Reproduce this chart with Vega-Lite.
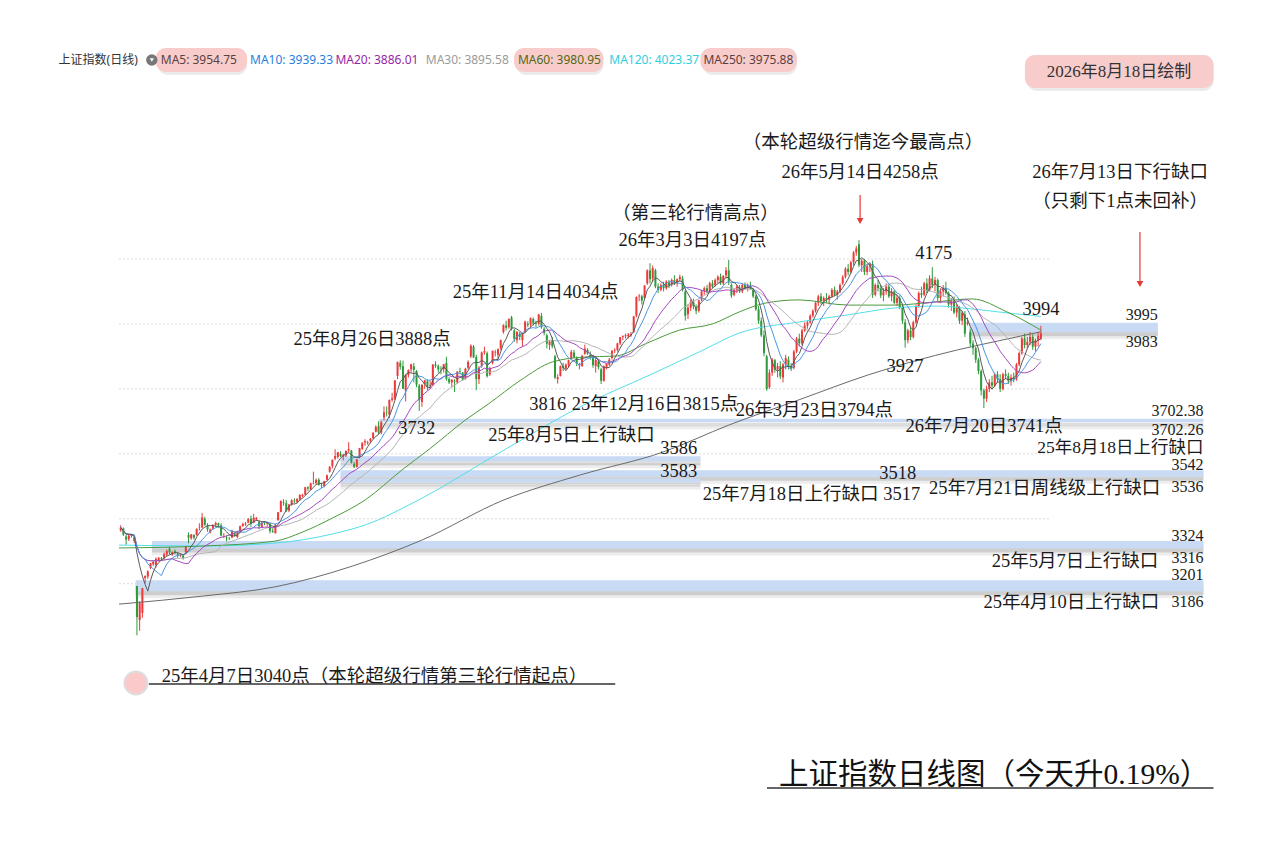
{
"$schema":"https://vega.github.io/schema/vega-lite/v6.json",
"width":1273,"height":844,
"autosize":{"type":"fit","contains":"padding"},
"padding":0,
"background":"#ffffff",
"config":{"view":{"stroke":null}},
"datasets":{
"k":[
{"i":-6,"o":3364,"h":3380,"l":3360,"c":3373},{"i":-5,"o":3370,"h":3373,"l":3347,"c":3351},{"i":-4,"o":3345,"h":3351,"l":3320,"c":3336},{"i":-3,"o":3337,"h":3350,"l":3331,"c":3348},{"i":-2,"o":3347,"h":3353,"l":3342,"c":3350},{"i":-1,"o":3332,"h":3346,"l":3325,"c":3342},
{"i":0,"o":3193,"h":3193,"l":3041,"c":3097},{"i":1,"o":3088,"h":3146,"l":3055,"c":3140},{"i":2,"o":3110,"h":3187,"l":3095,"c":3186},{"i":3,"o":3218,"h":3225,"l":3201,"c":3224},{"i":4,"o":3222,"h":3241,"l":3215,"c":3238},{"i":5,"o":3249,"h":3264,"l":3245,"c":3263},{"i":6,"o":3260,"h":3272,"l":3255,"c":3268},{"i":7,"o":3258,"h":3281,"l":3250,"c":3276},{"i":8,"o":3270,"h":3282,"l":3268,"c":3280},{"i":9,"o":3279,"h":3282,"l":3270,"c":3277},
{"i":10,"o":3280,"h":3296,"l":3276,"c":3291},{"i":11,"o":3290,"h":3305,"l":3285,"c":3300},{"i":12,"o":3308,"h":3313,"l":3290,"c":3296},{"i":13,"o":3290,"h":3300,"l":3286,"c":3297},{"i":14,"o":3300,"h":3305,"l":3290,"c":3295},{"i":15,"o":3292,"h":3298,"l":3280,"c":3288},{"i":16,"o":3285,"h":3293,"l":3282,"c":3286},{"i":17,"o":3286,"h":3290,"l":3274,"c":3279},{"i":18,"o":3297,"h":3316,"l":3294,"c":3316},{"i":19,"o":3350,"h":3358,"l":3324,"c":3342},
{"i":20,"o":3340,"h":3353,"l":3335,"c":3352},{"i":21,"o":3350,"h":3352,"l":3336,"c":3342},{"i":22,"o":3350,"h":3370,"l":3348,"c":3369},{"i":23,"o":3373,"h":3386,"l":3364,"c":3374},{"i":24,"o":3373,"h":3418,"l":3372,"c":3404},{"i":25,"o":3400,"h":3406,"l":3378,"c":3381},{"i":26,"o":3378,"h":3386,"l":3360,"c":3367},{"i":27,"o":3358,"h":3370,"l":3355,"c":3367},{"i":28,"o":3370,"h":3382,"l":3366,"c":3381},{"i":29,"o":3381,"h":3391,"l":3375,"c":3387},
{"i":30,"o":3386,"h":3388,"l":3372,"c":3380},{"i":31,"o":3380,"h":3386,"l":3346,"c":3348},{"i":32,"o":3345,"h":3356,"l":3340,"c":3346},{"i":33,"o":3342,"h":3348,"l":3330,"c":3340},{"i":34,"o":3340,"h":3344,"l":3334,"c":3339},{"i":35,"o":3342,"h":3366,"l":3340,"c":3363},{"i":36,"o":3355,"h":3360,"l":3345,"c":3347},{"i":37,"o":3344,"h":3363,"l":3340,"c":3361},{"i":38,"o":3360,"h":3379,"l":3358,"c":3377},{"i":39,"o":3378,"h":3388,"l":3375,"c":3384},
{"i":40,"o":3382,"h":3390,"l":3378,"c":3385},{"i":41,"o":3388,"h":3402,"l":3386,"c":3399},{"i":42,"o":3400,"h":3410,"l":3375,"c":3384},{"i":43,"o":3388,"h":3415,"l":3386,"c":3403},{"i":44,"o":3398,"h":3405,"l":3393,"c":3403},{"i":45,"o":3390,"h":3395,"l":3368,"c":3377},{"i":46,"o":3375,"h":3391,"l":3372,"c":3388},{"i":47,"o":3388,"h":3393,"l":3380,"c":3387},{"i":48,"o":3385,"h":3390,"l":3376,"c":3388},{"i":49,"o":3385,"h":3386,"l":3355,"c":3362},
{"i":50,"o":3362,"h":3370,"l":3357,"c":3359},{"i":51,"o":3355,"h":3385,"l":3355,"c":3381},{"i":52,"o":3395,"h":3421,"l":3395,"c":3420},{"i":53,"o":3421,"h":3456,"l":3420,"c":3455},{"i":54,"o":3450,"h":3460,"l":3440,"c":3448},{"i":55,"o":3448,"h":3458,"l":3421,"c":3424},{"i":56,"o":3425,"h":3445,"l":3420,"c":3444},{"i":57,"o":3444,"h":3460,"l":3440,"c":3457},{"i":58,"o":3456,"h":3463,"l":3448,"c":3454},{"i":59,"o":3452,"h":3463,"l":3448,"c":3461},
{"i":60,"o":3460,"h":3476,"l":3455,"c":3473},{"i":61,"o":3470,"h":3477,"l":3466,"c":3473},{"i":62,"o":3474,"h":3498,"l":3472,"c":3497},{"i":63,"o":3497,"h":3500,"l":3486,"c":3493},{"i":64,"o":3490,"h":3511,"l":3488,"c":3509},{"i":65,"o":3509,"h":3545,"l":3506,"c":3510},{"i":66,"o":3510,"h":3524,"l":3505,"c":3520},{"i":67,"o":3520,"h":3525,"l":3502,"c":3505},{"i":68,"o":3505,"h":3510,"l":3495,"c":3503},{"i":69,"o":3500,"h":3517,"l":3497,"c":3516},
{"i":70,"o":3520,"h":3536,"l":3518,"c":3534},{"i":71,"o":3545,"h":3562,"l":3542,"c":3560},{"i":72,"o":3562,"h":3582,"l":3555,"c":3582},{"i":73,"o":3585,"h":3614,"l":3580,"c":3593},{"i":74,"o":3590,"h":3606,"l":3585,"c":3605},{"i":75,"o":3600,"h":3608,"l":3590,"c":3593},{"i":76,"o":3592,"h":3600,"l":3580,"c":3597},{"i":77,"o":3595,"h":3610,"l":3590,"c":3609},{"i":78,"o":3610,"h":3636,"l":3605,"c":3615},{"i":79,"o":3610,"h":3612,"l":3570,"c":3573},
{"i":80,"o":3568,"h":3575,"l":3556,"c":3560},{"i":81,"o":3560,"h":3583,"l":3558,"c":3583},{"i":82,"o":3590,"h":3618,"l":3586,"c":3617},{"i":83,"o":3615,"h":3635,"l":3612,"c":3634},{"i":84,"o":3635,"h":3645,"l":3625,"c":3639},{"i":85,"o":3634,"h":3640,"l":3628,"c":3636},{"i":86,"o":3640,"h":3648,"l":3632,"c":3647},{"i":87,"o":3648,"h":3666,"l":3645,"c":3665},{"i":88,"o":3668,"h":3688,"l":3666,"c":3683},{"i":89,"o":3685,"h":3700,"l":3660,"c":3666},
{"i":90,"o":3665,"h":3702,"l":3660,"c":3697},{"i":91,"o":3712,"h":3746,"l":3703,"c":3728},{"i":92,"o":3728,"h":3746,"l":3715,"c":3727},{"i":93,"o":3720,"h":3767,"l":3710,"c":3766},{"i":94,"o":3766,"h":3788,"l":3760,"c":3771},{"i":95,"o":3770,"h":3826,"l":3765,"c":3826},{"i":96,"o":3840,"h":3884,"l":3830,"c":3883},{"i":97,"o":3880,"h":3888,"l":3859,"c":3868},{"i":98,"o":3870,"h":3887,"l":3800,"c":3800},{"i":99,"o":3795,"h":3845,"l":3761,"c":3843},
{"i":100,"o":3843,"h":3860,"l":3835,"c":3858},{"i":101,"o":3860,"h":3877,"l":3850,"c":3876},{"i":102,"o":3870,"h":3880,"l":3820,"c":3858},{"i":103,"o":3855,"h":3858,"l":3805,"c":3813},{"i":104,"o":3810,"h":3815,"l":3732,"c":3765},{"i":105,"o":3760,"h":3815,"l":3745,"c":3812},{"i":106,"o":3815,"h":3828,"l":3800,"c":3826},{"i":107,"o":3823,"h":3830,"l":3795,"c":3807},{"i":108,"o":3810,"h":3825,"l":3800,"c":3812},{"i":109,"o":3812,"h":3876,"l":3810,"c":3875},
{"i":110,"o":3875,"h":3885,"l":3865,"c":3871},{"i":111,"o":3870,"h":3875,"l":3850,"c":3860},{"i":112,"o":3862,"h":3870,"l":3845,"c":3861},{"i":113,"o":3860,"h":3877,"l":3850,"c":3876},{"i":114,"o":3880,"h":3899,"l":3825,"c":3831},{"i":115,"o":3830,"h":3836,"l":3815,"c":3820},{"i":116,"o":3820,"h":3830,"l":3805,"c":3828},{"i":117,"o":3825,"h":3830,"l":3790,"c":3822},{"i":118,"o":3820,"h":3855,"l":3815,"c":3853},{"i":119,"o":3855,"h":3865,"l":3845,"c":3853},
{"i":120,"o":3850,"h":3852,"l":3825,"c":3828},{"i":121,"o":3830,"h":3865,"l":3828,"c":3862},{"i":122,"o":3865,"h":3888,"l":3860,"c":3883},{"i":123,"o":3900,"h":3937,"l":3895,"c":3933},{"i":124,"o":3930,"h":3935,"l":3895,"c":3897},{"i":125,"o":3898,"h":3905,"l":3796,"c":3830},{"i":126,"o":3830,"h":3870,"l":3815,"c":3865},{"i":127,"o":3870,"h":3915,"l":3865,"c":3912},{"i":128,"o":3912,"h":3930,"l":3905,"c":3916},{"i":129,"o":3910,"h":3915,"l":3835,"c":3839},
{"i":130,"o":3845,"h":3868,"l":3840,"c":3863},{"i":131,"o":3880,"h":3918,"l":3875,"c":3917},{"i":132,"o":3912,"h":3920,"l":3900,"c":3914},{"i":133,"o":3905,"h":3925,"l":3890,"c":3922},{"i":134,"o":3925,"h":3952,"l":3920,"c":3950},{"i":135,"o":3975,"h":3999,"l":3970,"c":3996},{"i":136,"o":3995,"h":4010,"l":3980,"c":3988},{"i":137,"o":3990,"h":4016,"l":3985,"c":4016},{"i":138,"o":4020,"h":4025,"l":3980,"c":3986},{"i":139,"o":3980,"h":3985,"l":3945,"c":3954},
{"i":140,"o":3950,"h":3977,"l":3940,"c":3976},{"i":141,"o":3970,"h":3975,"l":3950,"c":3960},{"i":142,"o":3950,"h":3972,"l":3930,"c":3969},{"i":143,"o":3975,"h":4010,"l":3972,"c":4007},{"i":144,"o":4000,"h":4008,"l":3990,"c":3997},{"i":145,"o":3998,"h":4020,"l":3990,"c":4018},{"i":146,"o":4015,"h":4020,"l":3995,"c":4002},{"i":147,"o":4002,"h":4010,"l":3990,"c":4000},{"i":148,"o":4000,"h":4031,"l":3995,"c":4029},{"i":149,"o":4025,"h":4034,"l":3985,"c":3990},
{"i":150,"o":3985,"h":3990,"l":3965,"c":3972},{"i":151,"o":3965,"h":3970,"l":3925,"c":3939},{"i":152,"o":3935,"h":3950,"l":3920,"c":3946},{"i":153,"o":3950,"h":3960,"l":3925,"c":3931},{"i":154,"o":3900,"h":3905,"l":3830,"c":3835},{"i":155,"o":3830,"h":3845,"l":3816,"c":3836},{"i":156,"o":3840,"h":3872,"l":3838,"c":3870},{"i":157,"o":3870,"h":3880,"l":3855,"c":3864},{"i":158,"o":3862,"h":3878,"l":3860,"c":3875},{"i":159,"o":3875,"h":3890,"l":3865,"c":3888},
{"i":160,"o":3892,"h":3920,"l":3890,"c":3914},{"i":161,"o":3912,"h":3920,"l":3895,"c":3898},{"i":162,"o":3895,"h":3900,"l":3870,"c":3878},{"i":163,"o":3872,"h":3880,"l":3860,"c":3875},{"i":164,"o":3870,"h":3905,"l":3868,"c":3902},{"i":165,"o":3908,"h":3936,"l":3905,"c":3924},{"i":166,"o":3920,"h":3925,"l":3905,"c":3909},{"i":167,"o":3905,"h":3915,"l":3890,"c":3900},{"i":168,"o":3898,"h":3905,"l":3865,"c":3873},{"i":169,"o":3870,"h":3895,"l":3850,"c":3889},
{"i":170,"o":3885,"h":3890,"l":3860,"c":3867},{"i":171,"o":3860,"h":3865,"l":3815,"c":3825},{"i":172,"o":3825,"h":3872,"l":3822,"c":3870},{"i":173,"o":3868,"h":3880,"l":3860,"c":3877},{"i":174,"o":3875,"h":3895,"l":3870,"c":3890},{"i":175,"o":3895,"h":3920,"l":3890,"c":3917},{"i":176,"o":3918,"h":3925,"l":3910,"c":3920},{"i":177,"o":3920,"h":3942,"l":3915,"c":3940},{"i":178,"o":3940,"h":3960,"l":3935,"c":3959},{"i":179,"o":3960,"h":3965,"l":3950,"c":3963},
{"i":180,"o":3962,"h":3970,"l":3955,"c":3965},{"i":181,"o":3962,"h":3972,"l":3955,"c":3968},{"i":182,"o":3965,"h":3975,"l":3960,"c":3969},{"i":183,"o":3975,"h":4025,"l":3972,"c":4023},{"i":184,"o":4025,"h":4085,"l":4020,"c":4083},{"i":185,"o":4085,"h":4092,"l":4070,"c":4087},{"i":186,"o":4085,"h":4090,"l":4060,"c":4072},{"i":187,"o":4080,"h":4120,"l":4078,"c":4118},{"i":188,"o":4125,"h":4168,"l":4120,"c":4165},{"i":189,"o":4165,"h":4187,"l":4125,"c":4138},
{"i":190,"o":4140,"h":4180,"l":4130,"c":4172},{"i":191,"o":4165,"h":4170,"l":4110,"c":4115},{"i":192,"o":4115,"h":4125,"l":4095,"c":4105},{"i":193,"o":4105,"h":4125,"l":4100,"c":4120},{"i":194,"o":4120,"h":4130,"l":4100,"c":4110},{"i":195,"o":4110,"h":4135,"l":4105,"c":4130},{"i":196,"o":4128,"h":4135,"l":4110,"c":4120},{"i":197,"o":4122,"h":4140,"l":4115,"c":4135},{"i":198,"o":4135,"h":4150,"l":4120,"c":4125},{"i":199,"o":4125,"h":4140,"l":4115,"c":4138},
{"i":200,"o":4138,"h":4152,"l":4130,"c":4145},{"i":201,"o":4140,"h":4148,"l":4100,"c":4105},{"i":202,"o":4100,"h":4105,"l":4010,"c":4025},{"i":203,"o":4030,"h":4060,"l":4015,"c":4050},{"i":204,"o":4050,"h":4075,"l":4040,"c":4068},{"i":205,"o":4068,"h":4078,"l":4045,"c":4055},{"i":206,"o":4050,"h":4060,"l":4030,"c":4040},{"i":207,"o":4040,"h":4075,"l":4035,"c":4072},{"i":208,"o":4075,"h":4105,"l":4070,"c":4100},{"i":209,"o":4100,"h":4115,"l":4090,"c":4110},
{"i":210,"o":4110,"h":4120,"l":4095,"c":4100},{"i":211,"o":4100,"h":4130,"l":4095,"c":4125},{"i":212,"o":4125,"h":4135,"l":4110,"c":4115},{"i":213,"o":4120,"h":4140,"l":4115,"c":4135},{"i":214,"o":4135,"h":4150,"l":4125,"c":4145},{"i":215,"o":4145,"h":4155,"l":4120,"c":4125},{"i":216,"o":4125,"h":4150,"l":4120,"c":4148},{"i":217,"o":4150,"h":4175,"l":4140,"c":4165},{"i":218,"o":4165,"h":4197,"l":4120,"c":4130},{"i":219,"o":4120,"h":4125,"l":4080,"c":4088},
{"i":220,"o":4090,"h":4110,"l":4085,"c":4105},{"i":221,"o":4105,"h":4120,"l":4095,"c":4115},{"i":222,"o":4112,"h":4120,"l":4095,"c":4100},{"i":223,"o":4100,"h":4125,"l":4095,"c":4120},{"i":224,"o":4120,"h":4128,"l":4105,"c":4110},{"i":225,"o":4110,"h":4125,"l":4100,"c":4118},{"i":226,"o":4118,"h":4130,"l":4105,"c":4108},{"i":227,"o":4105,"h":4110,"l":4080,"c":4085},{"i":228,"o":4085,"h":4090,"l":4040,"c":4045},{"i":229,"o":4045,"h":4055,"l":4000,"c":4010},
{"i":230,"o":4010,"h":4020,"l":3960,"c":3965},{"i":231,"o":3965,"h":3980,"l":3900,"c":3910},{"i":232,"o":3900,"h":3905,"l":3794,"c":3800},{"i":233,"o":3805,"h":3860,"l":3800,"c":3850},{"i":234,"o":3850,"h":3895,"l":3840,"c":3890},{"i":235,"o":3888,"h":3892,"l":3850,"c":3860},{"i":236,"o":3860,"h":3880,"l":3835,"c":3870},{"i":237,"o":3870,"h":3885,"l":3830,"c":3838},{"i":238,"o":3835,"h":3880,"l":3820,"c":3875},{"i":239,"o":3875,"h":3905,"l":3860,"c":3895},
{"i":240,"o":3890,"h":3900,"l":3860,"c":3870},{"i":241,"o":3870,"h":3880,"l":3855,"c":3862},{"i":242,"o":3865,"h":3920,"l":3860,"c":3915},{"i":243,"o":3915,"h":3960,"l":3910,"c":3955},{"i":244,"o":3955,"h":3970,"l":3930,"c":3940},{"i":245,"o":3940,"h":3985,"l":3935,"c":3980},{"i":246,"o":3980,"h":4005,"l":3975,"c":3995},{"i":247,"o":3995,"h":4010,"l":3985,"c":4005},{"i":248,"o":4005,"h":4030,"l":4000,"c":4025},{"i":249,"o":4025,"h":4045,"l":4020,"c":4040},
{"i":250,"o":4040,"h":4070,"l":4035,"c":4065},{"i":251,"o":4065,"h":4090,"l":4055,"c":4085},{"i":252,"o":4085,"h":4095,"l":4060,"c":4070},{"i":253,"o":4070,"h":4085,"l":4055,"c":4080},{"i":254,"o":4080,"h":4095,"l":4065,"c":4075},{"i":255,"o":4075,"h":4090,"l":4060,"c":4085},{"i":256,"o":4085,"h":4110,"l":4080,"c":4105},{"i":257,"o":4105,"h":4115,"l":4085,"c":4090},{"i":258,"o":4090,"h":4105,"l":4075,"c":4100},{"i":259,"o":4100,"h":4125,"l":4095,"c":4120},
{"i":260,"o":4125,"h":4150,"l":4120,"c":4145},{"i":261,"o":4145,"h":4175,"l":4140,"c":4170},{"i":262,"o":4170,"h":4185,"l":4150,"c":4160},{"i":263,"o":4160,"h":4195,"l":4155,"c":4190},{"i":264,"o":4190,"h":4225,"l":4180,"c":4220},{"i":265,"o":4220,"h":4240,"l":4210,"c":4232},{"i":266,"o":4245,"h":4258,"l":4175,"c":4182},{"i":267,"o":4180,"h":4200,"l":4160,"c":4195},{"i":268,"o":4195,"h":4200,"l":4150,"c":4160},{"i":269,"o":4160,"h":4185,"l":4150,"c":4178},
{"i":270,"o":4178,"h":4190,"l":4160,"c":4185},{"i":271,"o":4185,"h":4195,"l":4080,"c":4090},{"i":272,"o":4090,"h":4125,"l":4085,"c":4120},{"i":273,"o":4120,"h":4135,"l":4100,"c":4110},{"i":274,"o":4110,"h":4120,"l":4080,"c":4088},{"i":275,"o":4088,"h":4110,"l":4070,"c":4100},{"i":276,"o":4100,"h":4125,"l":4090,"c":4115},{"i":277,"o":4115,"h":4120,"l":4080,"c":4085},{"i":278,"o":4085,"h":4110,"l":4070,"c":4100},{"i":279,"o":4100,"h":4105,"l":4060,"c":4065},
{"i":280,"o":4065,"h":4090,"l":4055,"c":4080},{"i":281,"o":4080,"h":4088,"l":4045,"c":4050},{"i":282,"o":4050,"h":4060,"l":4000,"c":4010},{"i":283,"o":4005,"h":4015,"l":3927,"c":3950},{"i":284,"o":3950,"h":3985,"l":3940,"c":3980},{"i":285,"o":3980,"h":3990,"l":3950,"c":3960},{"i":286,"o":3960,"h":4010,"l":3955,"c":4005},{"i":287,"o":4005,"h":4060,"l":4000,"c":4055},{"i":288,"o":4055,"h":4100,"l":4050,"c":4095},{"i":289,"o":4095,"h":4115,"l":4080,"c":4090},
{"i":290,"o":4090,"h":4130,"l":4085,"c":4125},{"i":291,"o":4125,"h":4140,"l":4095,"c":4105},{"i":292,"o":4105,"h":4150,"l":4100,"c":4140},{"i":293,"o":4140,"h":4175,"l":4110,"c":4120},{"i":294,"o":4120,"h":4145,"l":4100,"c":4135},{"i":295,"o":4135,"h":4140,"l":4070,"c":4080},{"i":296,"o":4080,"h":4110,"l":4065,"c":4100},{"i":297,"o":4100,"h":4120,"l":4085,"c":4110},{"i":298,"o":4110,"h":4130,"l":4090,"c":4095},{"i":299,"o":4095,"h":4100,"l":4050,"c":4060},
{"i":300,"o":4060,"h":4080,"l":4040,"c":4070},{"i":301,"o":4070,"h":4085,"l":4030,"c":4035},{"i":302,"o":4035,"h":4060,"l":4020,"c":4050},{"i":303,"o":4050,"h":4055,"l":4000,"c":4010},{"i":304,"o":4010,"h":4040,"l":3996,"c":4035},{"i":305,"o":4030,"h":4040,"l":3960,"c":3970},{"i":306,"o":4000,"h":4020,"l":3995,"c":4005},{"i":307,"o":3975,"h":3983,"l":3930,"c":3940},{"i":308,"o":3940,"h":3950,"l":3905,"c":3925},{"i":309,"o":3925,"h":3930,"l":3880,"c":3890},
{"i":310,"o":3890,"h":3895,"l":3845,"c":3855},{"i":311,"o":3855,"h":3860,"l":3780,"c":3795},{"i":312,"o":3795,"h":3800,"l":3741,"c":3770},{"i":313,"o":3770,"h":3810,"l":3760,"c":3800},{"i":314,"o":3800,"h":3830,"l":3790,"c":3820},{"i":315,"o":3820,"h":3840,"l":3800,"c":3810},{"i":316,"o":3810,"h":3850,"l":3805,"c":3845},{"i":317,"o":3845,"h":3855,"l":3820,"c":3830},{"i":318,"o":3830,"h":3845,"l":3790,"c":3800},{"i":319,"o":3800,"h":3850,"l":3795,"c":3845},
{"i":320,"o":3845,"h":3860,"l":3830,"c":3840},{"i":321,"o":3840,"h":3850,"l":3815,"c":3825},{"i":322,"o":3825,"h":3845,"l":3810,"c":3835},{"i":323,"o":3835,"h":3850,"l":3820,"c":3830},{"i":324,"o":3830,"h":3880,"l":3825,"c":3875},{"i":325,"o":3875,"h":3915,"l":3870,"c":3910},{"i":326,"o":3910,"h":3960,"l":3905,"c":3955},{"i":327,"o":3955,"h":3970,"l":3925,"c":3935},{"i":328,"o":3935,"h":3960,"l":3925,"c":3945},{"i":329,"o":3945,"h":3975,"l":3935,"c":3960},
{"i":330,"o":3960,"h":3968,"l":3920,"c":3930},{"i":331,"o":3930,"h":3955,"l":3915,"c":3950},{"i":332,"o":3950,"h":3975,"l":3930,"c":3963},{"i":333,"o":3955,"h":3994,"l":3950,"c":3971}
],
"ma":[
{"k":"MA250","i":-6.6,"v":3137},{"k":"MA250","i":24.5,"v":3162},{"k":"MA250","i":50.8,"v":3190},{"k":"MA250","i":79.3,"v":3254},{"k":"MA250","i":104.9,"v":3334},{"k":"MA250","i":135.2,"v":3458},{"k":"MA250","i":163.4,"v":3535},{"k":"MA250","i":193.7,"v":3605},{"k":"MA250","i":218.2,"v":3689},{"k":"MA250","i":243.8,"v":3766},{"k":"MA250","i":269.4,"v":3843},{"k":"MA250","i":302.3,"v":3920},{"k":"MA250","i":316.9,"v":3947},{"k":"MA250","i":333,"v":3976},
{"k":"MA120","i":-6.6,"v":3319},{"k":"MA120","i":24.5,"v":3316},{"k":"MA120","i":50.8,"v":3325},{"k":"MA120","i":72,"v":3353},{"k":"MA120","i":84.1,"v":3381},{"k":"MA120","i":103.8,"v":3458},{"k":"MA120","i":134.1,"v":3606},{"k":"MA120","i":164.5,"v":3750},{"k":"MA120","i":189,"v":3843},{"k":"MA120","i":207.2,"v":3914},{"k":"MA120","i":221.9,"v":3972},{"k":"MA120","i":243.8,"v":4006},{"k":"MA120","i":262.1,"v":4028},{"k":"MA120","i":278.9,"v":4049},{"k":"MA120","i":294.9,"v":4055},{"k":"MA120","i":307.7,"v":4046},{"k":"MA120","i":320.5,"v":4034},{"k":"MA120","i":333,"v":4023},
{"k":"MA60","i":-6.6,"v":3310},{"k":"MA60","i":24.5,"v":3316},{"k":"MA60","i":50.8,"v":3331},{"k":"MA60","i":61,"v":3359},{"k":"MA60","i":72,"v":3402},{"k":"MA60","i":84.1,"v":3458},{"k":"MA60","i":97.6,"v":3550},{"k":"MA60","i":107.8,"v":3615},{"k":"MA60","i":121,"v":3704},{"k":"MA60","i":129.4,"v":3753},{"k":"MA60","i":141.4,"v":3827},{"k":"MA60","i":153.1,"v":3883},{"k":"MA60","i":164.8,"v":3898},{"k":"MA60","i":176.2,"v":3901},{"k":"MA60","i":187.9,"v":3941},{"k":"MA60","i":199.9,"v":3981},{"k":"MA60","i":212,"v":4000},{"k":"MA60","i":221.9,"v":4037},{"k":"MA60","i":231.4,"v":4064},{"k":"MA60","i":243.8,"v":4074},{"k":"MA60","i":262.1,"v":4058},{"k":"MA60","i":278.9,"v":4058},{"k":"MA60","i":293.1,"v":4067},{"k":"MA60","i":307.7,"v":4077},{"k":"MA60","i":320.5,"v":4037},{"k":"MA60","i":333,"v":3981}
],
"grid":[{"v":3200,"a":-6.6,"b":336.3},{"v":3400,"a":-6.6,"b":336.3},{"v":3600,"a":-6.6,"b":336.3},{"v":3800,"a":-6.6,"b":336.3},{"v":4000,"a":-6.6,"b":336.3},{"v":4200,"a":-6.6,"b":336.3}],
"gaps":[
{"lo":3983,"hi":3995,"m":3989,"g":12,"a":306.7,"b":376.1},
{"lo":3702.26,"hi":3702.38,"m":3702.3,"g":0.12,"a":89.2,"b":392.9},
{"lo":3583,"hi":3586,"m":3584.5,"g":3,"a":75,"b":207.6},
{"lo":3517,"hi":3518,"m":3517.5,"g":1,"a":75,"b":207.6},
{"lo":3536,"hi":3542,"m":3539,"g":6,"a":75,"b":392.9},
{"lo":3316,"hi":3324,"m":3320,"g":8,"a":5.5,"b":392.9},
{"lo":3186,"hi":3201,"m":3193.5,"g":15,"a":-0.5,"b":392.9}
],
"annC":[
{"i":267.5,"v":4560,"t":"（本轮超级行情迄今最高点）"},
{"i":266.4,"v":4468,"t":"26年5月14日4258点"},
{"i":205.8,"v":4342,"t":"（第三轮行情高点）"},
{"i":204.7,"v":4258.5,"t":"26年3月3日4197点"},
{"i":293.5,"v":4218.5,"t":"4175"},
{"i":362.2,"v":4468,"t":"26年7月13日下行缺口"},
{"i":362.2,"v":4378.6,"t":"（只剩下1点未回补）"},
{"i":146.9,"v":4098.3,"t":"25年11月14日4034点"},
{"i":86.6,"v":3953.6,"t":"25年8月26日3888点"},
{"i":333,"v":4046,"t":"3994"},
{"i":282.9,"v":3870.4,"t":"3927"},
{"i":151.3,"v":3753.4,"t":"3816"},
{"i":190.8,"v":3753.4,"t":"25年12月16日3815点"},
{"i":249.6,"v":3734.9,"t":"26年3月23日3794点"},
{"i":103.1,"v":3679.5,"t":"3732"},
{"i":160.1,"v":3657.9,"t":"25年8月5日上行缺口"},
{"i":312.1,"v":3685.6,"t":"26年7月20日3741点"},
{"i":199.6,"v":3617.9,"t":"3586"},
{"i":199.6,"v":3547,"t":"3583"},
{"i":280.3,"v":3540.9,"t":"3518"},
{"i":248.5,"v":3476.2,"t":"25年7月18日上行缺口 3517"},
{"i":334.4,"v":3494.7,"t":"25年7月21日周线级上行缺口"},
{"i":345.6,"v":3269.8,"t":"25年5月7日上行缺口"},
{"i":344.2,"v":3143.5,"t":"25年4月10日上行缺口"}
],
"annR":[
{"i":376.1,"v":4027.5,"t":"3995"},
{"i":376.1,"v":3944.3,"t":"3983"},
{"i":392.9,"v":3731,"t":"3702.38"},
{"i":392.9,"v":3673.3,"t":"3702.26"},
{"i":392.9,"v":3565.5,"t":"3542"},
{"i":392.9,"v":3497.7,"t":"3536"},
{"i":392.9,"v":3346.8,"t":"3324"},
{"i":392.9,"v":3279.1,"t":"3316"},
{"i":392.9,"v":3226.7,"t":"3201"},
{"i":392.9,"v":3143.5,"t":"3186"}
],
"annR2":[{"i":392.9,"v":3617.9,"t":"25年8月18日上行缺口"}],
"annL":[{"i":9.14,"v":2915.6,"t":"25年4月7日3040点（本轮超级行情第三轮行情起点）"}],
"title":[{"i":315.8,"v":2610.7,"t":"上证指数日线图（今天升0.19%）"}],
"date":[{"i":361.8,"v":4775.9,"t":"2026年8月18日绘制"}],
"ul":[{"a":4.39,"b":176.2,"v":2891},{"a":232.1,"b":396.6,"v":2570.7}],
"box":[{"a":6.94,"b":40.57,"lo":4775.9,"hi":4849.9},{"a":138.9,"b":171.8,"lo":4775.9,"hi":4849.9},{"a":207.6,"b":243.1,"lo":4775.9,"hi":4849.9},{"a":327.1,"b":396.6,"lo":4726.7,"hi":4828.3}],
"arrows":[{"i":266.4,"a":4397,"b":4317},{"i":369.5,"a":4283,"b":4123}],
"dot":[{"i":-0.37,"v":2894.1}],
"icon":[{"i":5.48,"v":4812.9}],
"leg":[
{"i":-28.87,"v":4812.9,"t":"上证指数(日线)","k":"T"},
{"i":8.77,"v":4812.9,"t":"MA5: 3954.75","k":"MA5"},
{"i":41.67,"v":4812.9,"t":"MA10: 3939.33","k":"MA10"},
{"i":73.1,"v":4812.9,"t":"MA20: 3886.01","k":"MA20"},
{"i":106.4,"v":4812.9,"t":"MA30: 3895.58","k":"MA30"},
{"i":140.35,"v":4812.9,"t":"MA60: 3980.95","k":"MA60"},
{"i":174.0,"v":4812.9,"t":"MA120: 4023.37","k":"MA120"},
{"i":208.7,"v":4812.9,"t":"MA250: 3975.88","k":"MA250"}
]
},
"layer":[
{"data":{"name":"grid"},"mark":{"type":"rule","color":"#dcdcdc","strokeWidth":1,"strokeDash":[2,2]},
 "encoding":{"x":{"field":"a","type":"quantitative","scale":{"domain":[-48.61,416.67],"nice":false,"zero":false},"axis":null},"x2":{"field":"b"},
 "y":{"field":"v","type":"quantitative","scale":{"domain":[2398.2,4997.7],"nice":false,"zero":false},"axis":null}}},
{"data":{"name":"gaps"},"mark":{"type":"rule","color":"#000000","opacity":0.07,"yOffset":7},
 "encoding":{"x":{"field":"a","type":"quantitative","scale":{"domain":[-48.61,416.67],"nice":false,"zero":false},"axis":null},"x2":{"field":"b"},
 "y":{"field":"m","type":"quantitative","scale":{"domain":[2398.2,4997.7],"nice":false,"zero":false},"axis":null},
 "strokeWidth":{"field":"g","type":"quantitative","scale":{"domain":[0,15],"range":[3.5,11]},"legend":null}}},
{"data":{"name":"gaps"},"mark":{"type":"rule","color":"#000000","opacity":0.13,"yOffset":4},
 "encoding":{"x":{"field":"a","type":"quantitative","scale":{"domain":[-48.61,416.67],"nice":false,"zero":false},"axis":null},"x2":{"field":"b"},
 "y":{"field":"m","type":"quantitative","scale":{"domain":[2398.2,4997.7],"nice":false,"zero":false},"axis":null},
 "strokeWidth":{"field":"g","type":"quantitative","scale":{"domain":[0,15],"range":[3.5,11]},"legend":null}}},
{"data":{"name":"gaps"},"mark":{"type":"rule","color":"#c9daf5"},
 "encoding":{"x":{"field":"a","type":"quantitative","scale":{"domain":[-48.61,416.67],"nice":false,"zero":false},"axis":null},"x2":{"field":"b"},
 "y":{"field":"m","type":"quantitative","scale":{"domain":[2398.2,4997.7],"nice":false,"zero":false},"axis":null},
 "strokeWidth":{"field":"g","type":"quantitative","scale":{"domain":[0,15],"range":[3.5,11]},"legend":null}}},
{"data":{"name":"k"},"mark":{"type":"rule","strokeWidth":1},
 "encoding":{"x":{"field":"i","type":"quantitative","scale":{"domain":[-48.61,416.67],"nice":false,"zero":false},"axis":null},
 "y":{"field":"l","type":"quantitative","scale":{"domain":[2398.2,4997.7],"nice":false,"zero":false},"axis":null},"y2":{"field":"h"},
 "color":{"condition":{"test":"datum.c >= datum.o","value":"#ec3a3a"},"value":"#2e9a3c"}}},
{"data":{"name":"k"},"mark":{"type":"bar","width":2},
 "encoding":{"x":{"field":"i","type":"quantitative","scale":{"domain":[-48.61,416.67],"nice":false,"zero":false},"axis":null},
 "y":{"field":"o","type":"quantitative","scale":{"domain":[2398.2,4997.7],"nice":false,"zero":false},"axis":null},"y2":{"field":"c"},
 "color":{"condition":{"test":"datum.c >= datum.o","value":"#ec3a3a"},"value":"#2e9a3c"}}},
{"data":{"name":"ma"},"transform":[{"filter":"datum.k === 'MA250'"}],"mark":{"type":"line","color":"#6a6a6a","strokeWidth":1,"interpolate":"monotone"},
 "encoding":{"x":{"field":"i","type":"quantitative","scale":{"domain":[-48.61,416.67],"nice":false,"zero":false},"axis":null},
 "y":{"field":"v","type":"quantitative","scale":{"domain":[2398.2,4997.7],"nice":false,"zero":false},"axis":null}}},
{"data":{"name":"ma"},"transform":[{"filter":"datum.k === 'MA120'"}],"mark":{"type":"line","color":"#52dfe8","strokeWidth":1,"interpolate":"monotone"},
 "encoding":{"x":{"field":"i","type":"quantitative","scale":{"domain":[-48.61,416.67],"nice":false,"zero":false},"axis":null},
 "y":{"field":"v","type":"quantitative","scale":{"domain":[2398.2,4997.7],"nice":false,"zero":false},"axis":null}}},
{"data":{"name":"ma"},"transform":[{"filter":"datum.k === 'MA60'"}],"mark":{"type":"line","color":"#4b9a3b","strokeWidth":1,"interpolate":"monotone"},
 "encoding":{"x":{"field":"i","type":"quantitative","scale":{"domain":[-48.61,416.67],"nice":false,"zero":false},"axis":null},
 "y":{"field":"v","type":"quantitative","scale":{"domain":[2398.2,4997.7],"nice":false,"zero":false},"axis":null}}},
{"data":{"name":"k"},"transform":[{"window":[{"op":"mean","field":"c","as":"m"}],"frame":[-29,0],"sort":[{"field":"i","order":"ascending"}]}],"mark":{"type":"line","color":"#b4b4b4","strokeWidth":1},
 "encoding":{"x":{"field":"i","type":"quantitative","scale":{"domain":[-48.61,416.67],"nice":false,"zero":false},"axis":null},
 "y":{"field":"m","type":"quantitative","scale":{"domain":[2398.2,4997.7],"nice":false,"zero":false},"axis":null}}},
{"data":{"name":"k"},"transform":[{"window":[{"op":"mean","field":"c","as":"m"}],"frame":[-19,0],"sort":[{"field":"i","order":"ascending"}]}],"mark":{"type":"line","color":"#a348be","strokeWidth":1},
 "encoding":{"x":{"field":"i","type":"quantitative","scale":{"domain":[-48.61,416.67],"nice":false,"zero":false},"axis":null},
 "y":{"field":"m","type":"quantitative","scale":{"domain":[2398.2,4997.7],"nice":false,"zero":false},"axis":null}}},
{"data":{"name":"k"},"transform":[{"window":[{"op":"mean","field":"c","as":"m"}],"frame":[-9,0],"sort":[{"field":"i","order":"ascending"}]}],"mark":{"type":"line","color":"#4a95e6","strokeWidth":1},
 "encoding":{"x":{"field":"i","type":"quantitative","scale":{"domain":[-48.61,416.67],"nice":false,"zero":false},"axis":null},
 "y":{"field":"m","type":"quantitative","scale":{"domain":[2398.2,4997.7],"nice":false,"zero":false},"axis":null}}},
{"data":{"name":"k"},"transform":[{"window":[{"op":"mean","field":"c","as":"m"}],"frame":[-4,0],"sort":[{"field":"i","order":"ascending"}]}],"mark":{"type":"line","color":"#5a5a5a","strokeWidth":1},
 "encoding":{"x":{"field":"i","type":"quantitative","scale":{"domain":[-48.61,416.67],"nice":false,"zero":false},"axis":null},
 "y":{"field":"m","type":"quantitative","scale":{"domain":[2398.2,4997.7],"nice":false,"zero":false},"axis":null}}},
{"data":{"name":"box"},"mark":{"type":"rect","color":"#000000","opacity":0.08,"cornerRadius":10,"xOffset":2,"yOffset":3},
 "encoding":{"x":{"field":"a","type":"quantitative","scale":{"domain":[-48.61,416.67],"nice":false,"zero":false},"axis":null},"x2":{"field":"b"},
 "y":{"field":"lo","type":"quantitative","scale":{"domain":[2398.2,4997.7],"nice":false,"zero":false},"axis":null},"y2":{"field":"hi"}}},
{"data":{"name":"box"},"mark":{"type":"rect","color":"#f9cccc","cornerRadius":10},
 "encoding":{"x":{"field":"a","type":"quantitative","scale":{"domain":[-48.61,416.67],"nice":false,"zero":false},"axis":null},"x2":{"field":"b"},
 "y":{"field":"lo","type":"quantitative","scale":{"domain":[2398.2,4997.7],"nice":false,"zero":false},"axis":null},"y2":{"field":"hi"}}},
{"data":{"name":"icon"},"mark":{"type":"point","filled":true,"color":"#777777","size":130,"opacity":1},
 "encoding":{"x":{"field":"i","type":"quantitative","scale":{"domain":[-48.61,416.67],"nice":false,"zero":false},"axis":null},
 "y":{"field":"v","type":"quantitative","scale":{"domain":[2398.2,4997.7],"nice":false,"zero":false},"axis":null}}},
{"data":{"name":"icon"},"mark":{"type":"point","filled":true,"shape":"triangle-down","color":"#ffffff","size":18,"opacity":1},
 "encoding":{"x":{"field":"i","type":"quantitative","scale":{"domain":[-48.61,416.67],"nice":false,"zero":false},"axis":null},
 "y":{"field":"v","type":"quantitative","scale":{"domain":[2398.2,4997.7],"nice":false,"zero":false},"axis":null}}},
{"data":{"name":"leg"},"mark":{"type":"text","align":"left","baseline":"middle","font":"Noto Sans, Noto Sans CJK SC","fontSize":12},
 "encoding":{"x":{"field":"i","type":"quantitative","scale":{"domain":[-48.61,416.67],"nice":false,"zero":false},"axis":null},
 "y":{"field":"v","type":"quantitative","scale":{"domain":[2398.2,4997.7],"nice":false,"zero":false},"axis":null},
 "text":{"field":"t","type":"nominal"},
 "color":{"field":"k","type":"nominal","scale":{"domain":["T","MA5","MA10","MA20","MA30","MA60","MA120","MA250"],"range":["#333333","#5a3f3f","#1f80de","#9a1fa5","#9b9b9b","#4f6a12","#2fd0de","#5a3f3f"]},"legend":null}}},
{"data":{"name":"date"},"mark":{"type":"text","align":"center","baseline":"middle","font":"Liberation Serif, Noto Sans CJK SC","fontSize":17,"color":"#333333"},
 "encoding":{"x":{"field":"i","type":"quantitative","scale":{"domain":[-48.61,416.67],"nice":false,"zero":false},"axis":null},
 "y":{"field":"v","type":"quantitative","scale":{"domain":[2398.2,4997.7],"nice":false,"zero":false},"axis":null},
 "text":{"field":"t","type":"nominal"}}},
{"data":{"name":"arrows"},"mark":{"type":"rule","color":"#e53935","strokeWidth":1.2},
 "encoding":{"x":{"field":"i","type":"quantitative","scale":{"domain":[-48.61,416.67],"nice":false,"zero":false},"axis":null},
 "y":{"field":"a","type":"quantitative","scale":{"domain":[2398.2,4997.7],"nice":false,"zero":false},"axis":null},"y2":{"field":"b"}}},
{"data":{"name":"arrows"},"mark":{"type":"point","shape":"triangle-down","filled":true,"color":"#e53935","size":45,"opacity":1},
 "encoding":{"x":{"field":"i","type":"quantitative","scale":{"domain":[-48.61,416.67],"nice":false,"zero":false},"axis":null},
 "y":{"field":"b","type":"quantitative","scale":{"domain":[2398.2,4997.7],"nice":false,"zero":false},"axis":null}}},
{"data":{"name":"annC"},"mark":{"type":"text","align":"center","baseline":"middle","font":"Liberation Serif, Noto Sans CJK SC","fontSize":18.5,"color":"#1a1a1a"},
 "encoding":{"x":{"field":"i","type":"quantitative","scale":{"domain":[-48.61,416.67],"nice":false,"zero":false},"axis":null},
 "y":{"field":"v","type":"quantitative","scale":{"domain":[2398.2,4997.7],"nice":false,"zero":false},"axis":null},
 "text":{"field":"t","type":"nominal"}}},
{"data":{"name":"annR"},"mark":{"type":"text","align":"right","baseline":"middle","font":"Liberation Serif, Noto Sans CJK SC","fontSize":16,"color":"#1a1a1a"},
 "encoding":{"x":{"field":"i","type":"quantitative","scale":{"domain":[-48.61,416.67],"nice":false,"zero":false},"axis":null},
 "y":{"field":"v","type":"quantitative","scale":{"domain":[2398.2,4997.7],"nice":false,"zero":false},"axis":null},
 "text":{"field":"t","type":"nominal"}}},
{"data":{"name":"annR2"},"mark":{"type":"text","align":"right","baseline":"middle","font":"Liberation Serif, Noto Sans CJK SC","fontSize":17.5,"color":"#1a1a1a"},
 "encoding":{"x":{"field":"i","type":"quantitative","scale":{"domain":[-48.61,416.67],"nice":false,"zero":false},"axis":null},
 "y":{"field":"v","type":"quantitative","scale":{"domain":[2398.2,4997.7],"nice":false,"zero":false},"axis":null},
 "text":{"field":"t","type":"nominal"}}},
{"data":{"name":"dot"},"mark":{"type":"point","filled":true,"color":"#fbc9c9","size":530,"opacity":1,"stroke":"#dddddd","strokeWidth":2},
 "encoding":{"x":{"field":"i","type":"quantitative","scale":{"domain":[-48.61,416.67],"nice":false,"zero":false},"axis":null},
 "y":{"field":"v","type":"quantitative","scale":{"domain":[2398.2,4997.7],"nice":false,"zero":false},"axis":null}}},
{"data":{"name":"ul"},"mark":{"type":"rule","color":"#333333","strokeWidth":1.5},
 "encoding":{"x":{"field":"a","type":"quantitative","scale":{"domain":[-48.61,416.67],"nice":false,"zero":false},"axis":null},"x2":{"field":"b"},
 "y":{"field":"v","type":"quantitative","scale":{"domain":[2398.2,4997.7],"nice":false,"zero":false},"axis":null}}},
{"data":{"name":"annL"},"mark":{"type":"text","align":"left","baseline":"middle","font":"Liberation Serif, Noto Sans CJK SC","fontSize":18.5,"color":"#1a1a1a"},
 "encoding":{"x":{"field":"i","type":"quantitative","scale":{"domain":[-48.61,416.67],"nice":false,"zero":false},"axis":null},
 "y":{"field":"v","type":"quantitative","scale":{"domain":[2398.2,4997.7],"nice":false,"zero":false},"axis":null},
 "text":{"field":"t","type":"nominal"}}},
{"data":{"name":"title"},"mark":{"type":"text","align":"center","baseline":"middle","font":"Liberation Serif, Noto Sans CJK SC","fontSize":29.5,"color":"#111111"},
 "encoding":{"x":{"field":"i","type":"quantitative","scale":{"domain":[-48.61,416.67],"nice":false,"zero":false},"axis":null},
 "y":{"field":"v","type":"quantitative","scale":{"domain":[2398.2,4997.7],"nice":false,"zero":false},"axis":null},
 "text":{"field":"t","type":"nominal"}}}
]
}
